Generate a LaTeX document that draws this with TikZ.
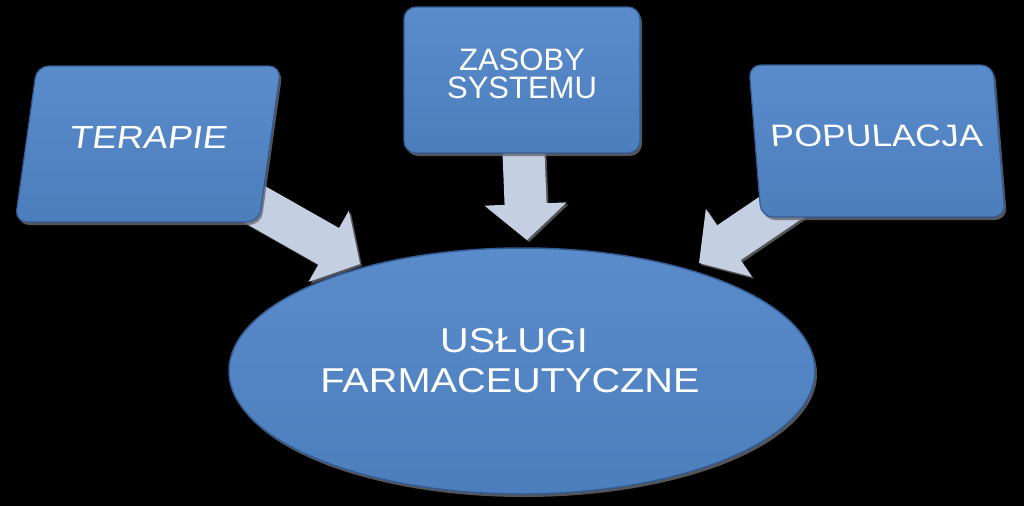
\documentclass[tikz,border=0pt]{standalone}
\usepackage{fontspec}
\setmainfont{Liberation Sans}
\newfontfamily\widefont[FakeStretch=1.15]{Liberation Sans}
\usetikzlibrary{calc,shapes.geometric,shadows}

\definecolor{boxblue}{RGB}{76,126,188}
\definecolor{boxtop}{RGB}{90,140,204}
\definecolor{boxrim}{RGB}{52,92,146}
\definecolor{arrowgray}{RGB}{196,207,226}
\definecolor{glowgray}{RGB}{105,105,112}

% block arrow from #1 to #2 (named coordinates)
\newcommand{\blockarrow}[2]{%
  \fill[arrowgray, drop shadow={shadow xshift=2pt, shadow yshift=-2pt, fill=glowgray, opacity=0.8}]
    let \p1=($(#2)-(#1)$), \n1={atan2(\y1,\x1)}, \n2={veclen(\x1,\y1)} in
    [shift={(#1)}, rotate=\n1]
    (0pt,-21pt) -- (\n2-36pt,-21pt) -- (\n2-36pt,-41pt) -- (\n2,0pt)
    -- (\n2-36pt,41pt) -- (\n2-36pt,21pt) -- (0pt,21pt) -- cycle;
}

\begin{document}
\begin{tikzpicture}[x=1pt,y=-1pt,
    glow/.style={drop shadow={shadow xshift=2pt, shadow yshift=-3pt, fill=glowgray, opacity=0.8}},
    bluebox/.style={rectangle, rounded corners=12pt, inner sep=0pt,
        top color=boxtop, bottom color=boxblue, draw=boxrim, line width=1.2pt,
        glow, text=white, align=center, transform shape},
    oval/.style={ellipse, inner sep=0pt, top color=boxtop, bottom color=boxblue,
        draw=boxrim, line width=1.5pt, glow, text=white, align=center}]

    \fill[black] (0,0) rectangle (1024,506);
    \useasboundingbox (0,0) rectangle (1024,506);

    % arrow ends
    \coordinate (tstart) at (240,196);
    \coordinate (ttip) at (360,264);
    \coordinate (zstart) at (523,140);
    \coordinate (ztip) at (527,240);
    \coordinate (pstart) at (792,200);
    \coordinate (ptip) at (699,263);

    \blockarrow{tstart}{ttip}
    \blockarrow{zstart}{ztip}
    \blockarrow{pstart}{ptip}

    % centre
    \node[oval, minimum width=586pt, minimum height=246pt, text depth=22pt,
        font={\widefont\fontsize{34.5}{40}\selectfont}] (uslugi) at (522,371)
        {US\L{}UGI\hspace*{16pt}\\FARMACEUTYCZNE\hspace*{24pt}};

    % boxes
    \coordinate (tc) at (148,144);
    \coordinate (zc) at (522,80);
    \coordinate (pc) at (877,141);
    \node[bluebox, xslant=0.14, minimum width=244pt, minimum height=156pt, text depth=14pt,
        font={\widefont\fontsize{32}{30}\selectfont}] (terapie) at (tc) {TERAPIE};
    \node[bluebox, minimum width=236pt, minimum height=146pt, text depth=12pt,
        font={\fontsize{31}{28}\selectfont}] (zasoby) at (zc) {ZASOBY\\SYSTEMU};
    \node[bluebox, xslant=-0.08, minimum width=244pt, minimum height=152pt, text depth=10pt,
        font={\widefont\fontsize{31}{30}\selectfont}] (populacja) at (pc) {POPULACJA};
\end{tikzpicture}
\end{document}
